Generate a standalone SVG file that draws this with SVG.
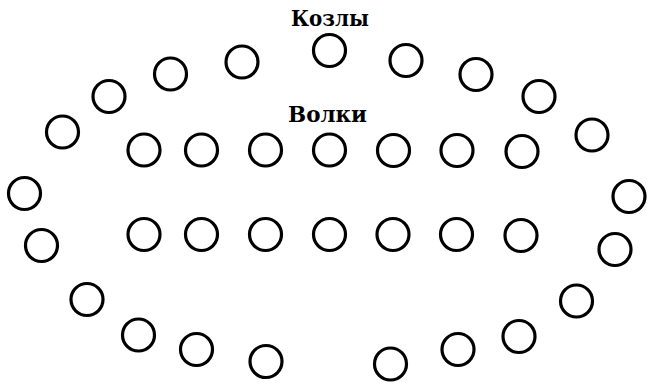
<svg xmlns="http://www.w3.org/2000/svg" width="647" height="385" viewBox="0 0 647 385">
<style>
.c{fill:none;stroke:#000;stroke-width:3.2}
.t{font-family:"DejaVu Serif","Liberation Serif",serif;font-weight:bold;font-size:23px;text-anchor:middle;fill:#000}
</style>
<rect width="647" height="385" fill="#fff"/>
<g id="labels">
<text class="t" x="330" y="26" textLength="78" lengthAdjust="spacingAndGlyphs">Козлы</text>
<text class="t" x="327.5" y="122" textLength="79" lengthAdjust="spacingAndGlyphs">Волки</text>
</g>
<g id="goats">
<circle class="c" cx="329.5" cy="50.5" r="16"/>
<circle class="c" cx="242" cy="62" r="16"/>
<circle class="c" cx="170.5" cy="74" r="16"/>
<circle class="c" cx="109" cy="96.5" r="16"/>
<circle class="c" cx="62.5" cy="132" r="16"/>
<circle class="c" cx="24.5" cy="193.5" r="16"/>
<circle class="c" cx="41.5" cy="245.5" r="16"/>
<circle class="c" cx="87" cy="299.5" r="16"/>
<circle class="c" cx="138.5" cy="335" r="16"/>
<circle class="c" cx="196.5" cy="349.5" r="16"/>
<circle class="c" cx="266" cy="361.5" r="16"/>
<circle class="c" cx="406" cy="60.5" r="16"/>
<circle class="c" cx="476" cy="74.5" r="16"/>
<circle class="c" cx="539" cy="96.5" r="16"/>
<circle class="c" cx="592" cy="135" r="16"/>
<circle class="c" cx="629" cy="196.5" r="16"/>
<circle class="c" cx="615" cy="249.5" r="16"/>
<circle class="c" cx="576.5" cy="301" r="16"/>
<circle class="c" cx="519" cy="336.5" r="16"/>
<circle class="c" cx="458" cy="349.5" r="16"/>
<circle class="c" cx="390.5" cy="364" r="16"/>
</g>
<g id="wolves">
<circle class="c" cx="144" cy="150" r="16"/>
<circle class="c" cx="201.5" cy="150" r="16"/>
<circle class="c" cx="265.5" cy="150" r="16"/>
<circle class="c" cx="329.5" cy="150" r="16"/>
<circle class="c" cx="393.5" cy="150.5" r="16"/>
<circle class="c" cx="457" cy="150.5" r="16"/>
<circle class="c" cx="522" cy="151.5" r="16"/>
<circle class="c" cx="144" cy="234.5" r="16"/>
<circle class="c" cx="201.5" cy="234.5" r="16"/>
<circle class="c" cx="265.5" cy="234.5" r="16"/>
<circle class="c" cx="329.5" cy="234.5" r="16"/>
<circle class="c" cx="393" cy="234.5" r="16"/>
<circle class="c" cx="456.5" cy="234.5" r="16"/>
<circle class="c" cx="521" cy="235.5" r="16"/>
</g>
</svg>
